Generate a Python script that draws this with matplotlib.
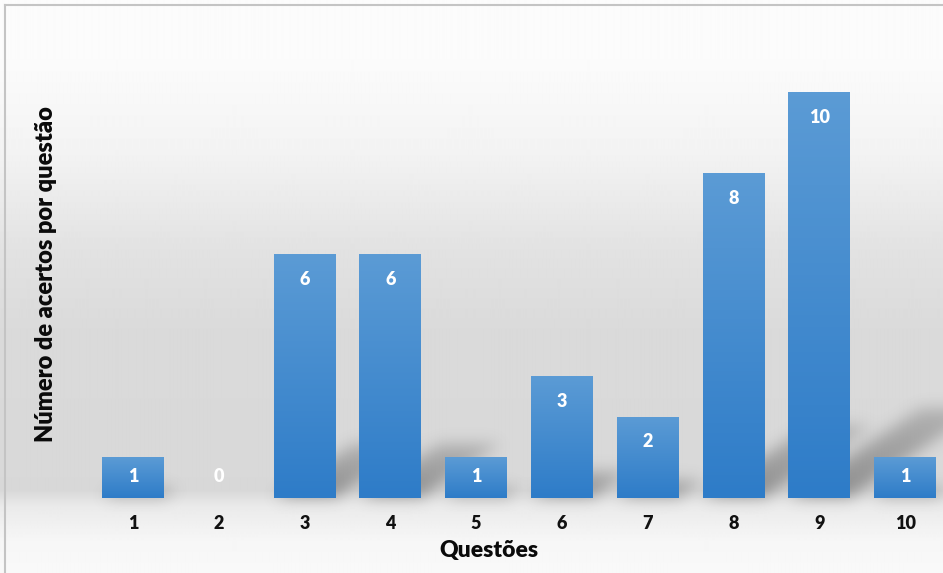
import numpy as np
import matplotlib
matplotlib.use("Agg")
import matplotlib.pyplot as plt
from matplotlib.colors import LinearSegmentedColormap

plt.rcParams['font.family'] = ['Lato', 'DejaVu Sans']

questoes = ['1', '2', '3', '4', '5', '6', '7', '8', '9', '10']
acertos = [1, 0, 6, 6, 1, 3, 2, 8, 10, 1]

W, H = 943, 573
fig = plt.figure(figsize=(W / 100, H / 100), dpi=100)

# background: light gray vertical gradient with a lighter floor under the bars
bg = fig.add_axes([0, 0, 1, 1])
stops_y = [0, 60, 150, 250, 330, 490, 506, 540, 573]
stops_v = [252, 251, 243, 226, 218, 216, 234, 246, 249]
col = np.interp(np.arange(H), stops_y, stops_v) / 255.0
bg.imshow(np.repeat(col[:, None], 4, axis=1), cmap='gray', vmin=0, vmax=1,
          aspect='auto', extent=[0, 1, 1, 0], interpolation='bilinear')
bg.set_xlim(0, 1)
bg.set_ylim(1, 0)
bg.axis('off')
bg.plot([5 / W, 1], [5 / H, 5 / H], color='#c4c4c4', lw=1.5)
bg.plot([5 / W, 5 / W], [5 / H, 1], color='#c4c4c4', lw=1.5)

left, bottom = 90 / W, (H - 498) / H
ax = fig.add_axes([left, bottom, 858 / W, 406 / H])
ax.patch.set_alpha(0)
x = np.arange(1, len(questoes) + 1)

# soft diagonal shadows cast behind each bar
px_x, px_y = 85.8, 40.6
gx = np.linspace(0.5, 11.5, int(11 * px_x))
gy = np.linspace(-0.6, 3.0, int(3.6 * px_y))
XX, YY = np.meshgrid(gx, gy)
shade = np.zeros_like(XX)
for xi, v in zip(x, acertos):
    if v <= 0:
        continue
    top = 0.22 * v
    t = YY / top
    off = 0.705 * YY
    inside = (YY >= 0) & (YY <= top) & (XX >= xi - 0.36 + off) & (XX <= xi + 0.36 + off)
    shade = np.maximum(shade, np.where(inside, 1 - 0.5 * t, 0))
k = np.arange(-22, 23)
kern = np.exp(-k ** 2 / (2 * 7.5 ** 2))
kern /= kern.sum()
shade = np.apply_along_axis(lambda r: np.convolve(r, kern, mode='same'), 1, shade)
shade = np.apply_along_axis(lambda c: np.convolve(c, kern, mode='same'), 0, shade)
rgba = np.zeros(shade.shape + (4,))
rgba[..., :3] = 0.25
rgba[..., 3] = 0.5 * shade
ax.imshow(rgba, extent=[gx[0], gx[-1], gy[0], gy[-1]], origin='lower',
          aspect='auto', zorder=1, clip_on=False)

bars = ax.bar(x, acertos, width=0.72, color='#3f88cf', zorder=2)
cmap = LinearSegmentedColormap.from_list('barra', ['#2e7cc8', '#5b9bd5'])
for b, v in zip(bars, acertos):
    if v <= 0:
        continue
    g = ax.imshow(np.linspace(0, 1, 100)[:, None], cmap=cmap, origin='lower',
                  aspect='auto', zorder=3,
                  extent=[b.get_x(), b.get_x() + b.get_width(), 0, v])
    g.set_clip_path(b)

for xi, v in zip(x, acertos):
    ax.text(xi, max(v - 0.62, 0.54), str(v), ha='center', va='center',
            color='white', fontsize=13, fontweight='heavy', zorder=4)

ax.set_xlim(0.5, 10.5)
ax.set_ylim(0, 10)
ax.set_xticks(x)
ax.set_xticklabels(questoes, fontsize=13, fontweight='heavy', color='#111111')
ax.tick_params(axis='x', length=0, pad=12)
ax.set_yticks([])
for s in ax.spines.values():
    s.set_visible(False)

fig.text(489 / W, 1 - 551 / H, 'Questões', ha='center', va='center',
         fontsize=16.5, fontweight='heavy', color='#0a0a0a')
fig.text(46 / W, 1 - 274 / H, 'Número de acertos por questão', ha='center',
         va='center', rotation=90, fontsize=17, fontweight='heavy', color='#0a0a0a')

fig.savefig('out.png', dpi=100)
